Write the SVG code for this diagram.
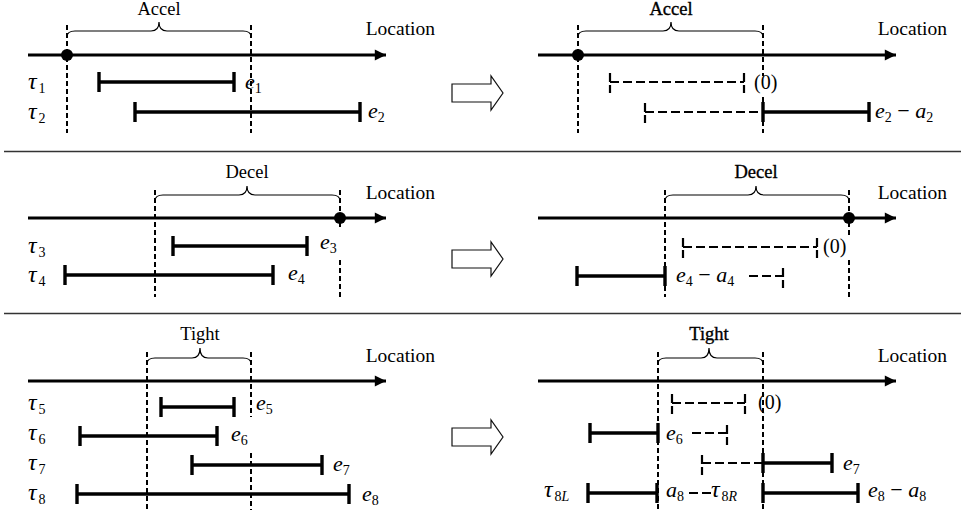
<svg xmlns="http://www.w3.org/2000/svg" width="961" height="517" viewBox="0 0 961 517">
  <style>
    text { font-family: "Liberation Serif", "Times New Roman", serif; fill: #000; }
    .zone { font-size: 18.5px; text-anchor: middle; }
    .zone.b { stroke: #000; stroke-width: 0.35; }
    .loc { font-size: 19.5px; text-anchor: end; }
    .tau { font-size: 24px; font-style: italic; }
    .var { font-size: 22px; font-style: italic; }
    .num { font-size: 20px; }
    .sub { font-size: 14px; font-style: normal; }
    .subi { font-size: 14px; font-style: italic; }
    .rm { font-style: normal; }
    .axis { stroke: #000; stroke-width: 2.8; fill: none; }
    .bound { stroke: #000; stroke-width: 2; stroke-dasharray: 5 3; fill: none; }
    .brace { stroke: #000; stroke-width: 1.2; fill: none; }
    .bar { stroke: #000; stroke-width: 3.6; fill: none; }
    .tick { stroke: #000; stroke-width: 3.4; fill: none; }
    .dbar { stroke: #000; stroke-width: 2.2; stroke-dasharray: 9 4; fill: none; }
    .dtick { stroke: #000; stroke-width: 2.2; stroke-dasharray: 9 3; fill: none; }
    .sep { stroke: #333; stroke-width: 1.6; }
    .hollow { fill: #fff; stroke: #111; stroke-width: 1.2; }
  </style>
  <defs>
    <marker id="head" viewBox="0 0 10 10" refX="10" refY="5" markerWidth="4.4" markerHeight="4" markerUnits="strokeWidth" orient="auto">
      <path d="M0,0 L10,5 L0,10 Z" fill="#000"/>
    </marker>
  </defs>

  <!-- panel separators -->
  <g id="separators">
    <line class="sep" x1="4" y1="151.5" x2="961" y2="151.5"/>
    <line class="sep" x1="4" y1="313.5" x2="961" y2="313.5"/>
  </g>

  <!-- transformation arrows -->
  <g id="transform-arrows">
    <path class="hollow" d="M452,84 H491 V76 L503,93 L491,110 V102 H452 Z"/>
    <path class="hollow" d="M452,250 H491 V242 L503,259 L491,276 V268 H452 Z"/>
    <path class="hollow" d="M452,428 H491 V420 L503,437 L491,454 V446 H452 Z"/>
  </g>

  <!-- ===== Accel, before ===== -->
  <g id="accel-before">
    <line class="axis" x1="28" y1="55" x2="386" y2="55" marker-end="url(#head)"/>
    <line class="bound" x1="67" y1="25" x2="67" y2="133"/>
    <line class="bound" x1="251" y1="25" x2="251" y2="133"/>
    <circle cx="67" cy="55" r="6" fill="#000"/>
    <path class="brace" d="M67,37 Q67,31 75,31 L151,31 Q159,31 159,22 Q159,31 167,31 L243,31 Q251,31 251,37"/>
    <text class="zone" x="159" y="15">Accel</text>
    <text class="loc" x="435" y="35">Location</text>
    <path class="bar" d="M99,82 H234"/>
    <path class="tick" d="M99,72 V92 M234,72 V92"/>
    <path class="bar" d="M135,112 H360"/>
    <path class="tick" d="M135,102 V122 M360,102 V122"/>
    <text class="tau" x="28" y="89">τ<tspan class="sub" dx="2" dy="4">1</tspan></text>
    <text class="tau" x="28" y="119">τ<tspan class="sub" dx="2" dy="4">2</tspan></text>
    <text class="var" x="245" y="89">e<tspan class="sub" dy="4">1</tspan></text>
    <text class="var" x="368" y="118">e<tspan class="sub" dy="4">2</tspan></text>
  </g>

  <!-- ===== Accel, after ===== -->
  <g id="accel-after">
    <line class="axis" x1="538" y1="55" x2="896" y2="55" marker-end="url(#head)"/>
    <line class="bound" x1="578" y1="25" x2="578" y2="133"/>
    <line class="bound" x1="763" y1="25" x2="763" y2="76"/>
    <line class="bound" x1="763" y1="97" x2="763" y2="133"/>
    <circle cx="578" cy="55" r="6" fill="#000"/>
    <path class="brace" d="M578,37 Q578,31 586,31 L663,31 Q671,31 671,22 Q671,31 679,31 L755,31 Q763,31 763,37"/>
    <text class="zone b" x="671" y="15">Accel</text>
    <text class="loc" x="947" y="35">Location</text>
    <path class="dbar" d="M610,82 H744"/>
    <path class="dtick" d="M610,73 V93 M744,73 V93"/>
    <text class="num" x="754" y="89">(0)</text>
    <path class="dbar" d="M645,112 H763"/>
    <path class="dtick" d="M645,103 V123"/>
    <path class="bar" d="M763,112 H869"/>
    <path class="tick" d="M763,102 V122 M869,102 V122"/>
    <text class="var" x="875" y="118">e<tspan class="sub" dy="4">2</tspan><tspan class="rm" dy="-4"> − </tspan>a<tspan class="sub" dy="4">2</tspan></text>
  </g>

  <!-- ===== Decel, before ===== -->
  <g id="decel-before">
    <line class="axis" x1="28" y1="218" x2="386" y2="218" marker-end="url(#head)"/>
    <line class="bound" x1="155" y1="190" x2="155" y2="297"/>
    <line class="bound" x1="340" y1="190" x2="340" y2="227"/>
    <line class="bound" x1="340" y1="260" x2="340" y2="297"/>
    <circle cx="340" cy="218" r="6" fill="#000"/>
    <path class="brace" d="M155,201 Q155,195 163,195 L239,195 Q247,195 247,186 Q247,195 255,195 L332,195 Q340,195 340,201"/>
    <text class="zone" x="247" y="178">Decel</text>
    <text class="loc" x="435" y="199">Location</text>
    <path class="bar" d="M173,246 H307"/>
    <path class="tick" d="M173,236 V256 M307,236 V256"/>
    <path class="bar" d="M65,275 H273"/>
    <path class="tick" d="M65,265 V285 M273,265 V285"/>
    <text class="tau" x="28" y="253">τ<tspan class="sub" dx="2" dy="4">3</tspan></text>
    <text class="tau" x="28" y="282">τ<tspan class="sub" dx="2" dy="4">4</tspan></text>
    <text class="var" x="320" y="249">e<tspan class="sub" dy="4">3</tspan></text>
    <text class="var" x="288" y="280">e<tspan class="sub" dy="4">4</tspan></text>
  </g>

  <!-- ===== Decel, after ===== -->
  <g id="decel-after">
    <line class="axis" x1="538" y1="218" x2="896" y2="218" marker-end="url(#head)"/>
    <line class="bound" x1="665" y1="190" x2="665" y2="297"/>
    <line class="bound" x1="849" y1="190" x2="849" y2="238"/>
    <line class="bound" x1="849" y1="260" x2="849" y2="297"/>
    <circle cx="849" cy="218" r="6" fill="#000"/>
    <path class="brace" d="M665,201 Q665,195 673,195 L748,195 Q756,195 756,186 Q756,195 764,195 L841,195 Q849,195 849,201"/>
    <text class="zone b" x="756" y="178">Decel</text>
    <text class="loc" x="947" y="199">Location</text>
    <path class="dbar" d="M683,247 H817"/>
    <path class="dtick" d="M683,238 V258 M817,238 V258"/>
    <text class="num" x="823" y="253">(0)</text>
    <path class="bar" d="M577,276 H665"/>
    <path class="tick" d="M577,266 V286 M665,266 V286"/>
    <text class="var" x="676" y="282">e<tspan class="sub" dy="4">4</tspan><tspan class="rm" dy="-4"> − </tspan>a<tspan class="sub" dy="4">4</tspan></text>
    <path class="dbar" d="M749,276 H783" stroke-dasharray="7 3.5"/>
    <path class="dtick" d="M783,268 V288"/>
  </g>

  <!-- ===== Tight, before ===== -->
  <g id="tight-before">
    <line class="axis" x1="28" y1="381" x2="386" y2="381" marker-end="url(#head)"/>
    <line class="bound" x1="147" y1="352" x2="147" y2="510"/>
    <line class="bound" x1="251" y1="352" x2="251" y2="417"/>
    <line class="bound" x1="251" y1="453" x2="251" y2="510"/>
    <path class="brace" d="M147,364 Q147,358 155,358 L192,358 Q200,358 200,348 Q200,358 208,358 L243,358 Q251,358 251,364"/>
    <text class="zone" x="200" y="340">Tight</text>
    <text class="loc" x="435" y="362">Location</text>
    <path class="bar" d="M161,407 H234"/>
    <path class="tick" d="M161,397 V417 M234,397 V417"/>
    <path class="bar" d="M80,436 H217"/>
    <path class="tick" d="M80,426 V446 M217,426 V446"/>
    <path class="bar" d="M192,465 H322"/>
    <path class="tick" d="M192,455 V475 M322,455 V475"/>
    <path class="bar" d="M77,494 H349"/>
    <path class="tick" d="M77,484 V504 M349,484 V504"/>
    <text class="tau" x="28" y="410">τ<tspan class="sub" dx="2" dy="4">5</tspan></text>
    <text class="tau" x="28" y="440">τ<tspan class="sub" dx="2" dy="4">6</tspan></text>
    <text class="tau" x="28" y="470">τ<tspan class="sub" dx="2" dy="4">7</tspan></text>
    <text class="tau" x="28" y="500">τ<tspan class="sub" dx="2" dy="4">8</tspan></text>
    <text class="var" x="256" y="410">e<tspan class="sub" dy="4">5</tspan></text>
    <text class="var" x="231" y="441">e<tspan class="sub" dy="4">6</tspan></text>
    <text class="var" x="333" y="471">e<tspan class="sub" dy="4">7</tspan></text>
    <text class="var" x="362" y="501">e<tspan class="sub" dy="4">8</tspan></text>
  </g>

  <!-- ===== Tight, after ===== -->
  <g id="tight-after">
    <line class="axis" x1="538" y1="381" x2="896" y2="381" marker-end="url(#head)"/>
    <line class="bound" x1="658" y1="352" x2="658" y2="510"/>
    <line class="bound" x1="763" y1="352" x2="763" y2="510"/>
    <path class="brace" d="M658,364 Q658,358 666,358 L701,358 Q709,358 709,348 Q709,358 717,358 L755,358 Q763,358 763,364"/>
    <text class="zone b" x="709" y="340">Tight</text>
    <text class="loc" x="947" y="362">Location</text>
    <path class="dbar" d="M672,403 H745"/>
    <path class="dtick" d="M672,394 V414 M745,394 V414"/>
    <text class="num" x="758" y="409">(0)</text>
    <path class="bar" d="M590,433 H658"/>
    <path class="tick" d="M590,423 V443 M658,423 V443"/>
    <text class="var" x="666" y="440">e<tspan class="sub" dy="4">6</tspan></text>
    <path class="dbar" d="M692,433 H727" stroke-dasharray="7 3.5"/>
    <path class="dtick" d="M727,425 V445"/>
    <path class="dbar" d="M702,463 H763"/>
    <path class="dtick" d="M702,455 V475"/>
    <path class="bar" d="M763,463 H832"/>
    <path class="tick" d="M763,453 V473 M832,453 V473"/>
    <text class="var" x="843" y="470">e<tspan class="sub" dy="4">7</tspan></text>
    <text class="tau" x="544" y="497">τ<tspan class="sub" dx="2" dy="4">8</tspan><tspan class="subi">L</tspan></text>
    <path class="bar" d="M588,493 H657"/>
    <path class="tick" d="M588,483 V503 M657,483 V503"/>
    <text class="var" x="666" y="497">a<tspan class="sub" dy="4">8</tspan></text>
    <path class="dbar" d="M689,493 H711" stroke-dasharray="6 3"/>
    <text class="tau" x="711" y="497">τ<tspan class="sub" dx="2" dy="4">8</tspan><tspan class="subi">R</tspan></text>
    <path class="bar" d="M763,493 H858"/>
    <path class="tick" d="M763,483 V503 M858,483 V503"/>
    <text class="var" x="868" y="497">e<tspan class="sub" dy="4">8</tspan><tspan class="rm" dy="-4"> − </tspan>a<tspan class="sub" dy="4">8</tspan></text>
  </g>
</svg>
